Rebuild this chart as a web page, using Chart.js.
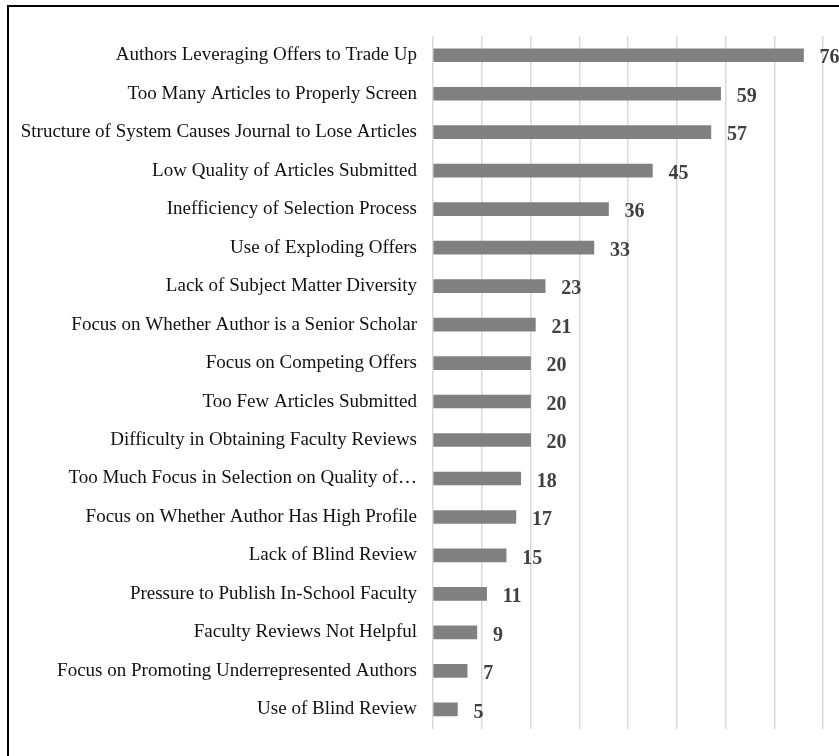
<!DOCTYPE html>
<html>
<head>
<meta charset="utf-8">
<script src="https://cdn.jsdelivr.net/npm/chart.js@4"></script>
<style>
  html, body { margin: 0; padding: 0; background: #fff; overflow: hidden; }
  #frame {
    position: absolute; left: 7px; top: 5px; width: 900px; height: 800px;
    border-left: 2px solid #000; border-top: 2px solid #000;
  }
  #wrap { position: absolute; left: 0; top: 0; width: 839px; height: 756px; }
</style>
</head>
<body>
<div id="frame"></div>
<div id="wrap"><canvas id="barChart" width="839" height="756"></canvas></div>
<script>
const categories = [
  'Authors Leveraging Offers to Trade Up',
  'Too Many Articles to Properly Screen',
  'Structure of System Causes Journal to Lose Articles',
  'Low Quality of Articles Submitted',
  'Inefficiency of Selection Process',
  'Use of Exploding Offers',
  'Lack of Subject Matter Diversity',
  'Focus on Whether Author is a Senior Scholar',
  'Focus on Competing Offers',
  'Too Few Articles Submitted',
  'Difficulty in Obtaining Faculty Reviews',
  'Too Much Focus in Selection on Quality of\u2026',
  'Focus on Whether Author Has High Profile',
  'Lack of Blind Review',
  'Pressure to Publish In-School Faculty',
  'Faculty Reviews Not Helpful',
  'Focus on Promoting Underrepresented Authors',
  'Use of Blind Review'
];
const counts = [76, 59, 57, 45, 36, 33, 23, 21, 20, 20, 20, 18, 17, 15, 11, 9, 7, 5];
const axisMin = 0;
const axisMax = 80;
const axisStep = 10;

const serif = '"Liberation Serif", "Times New Roman", serif';

// draws the bold value next to each bar
const valueLabels = {
  id: 'valueLabels',
  afterDatasetsDraw(chart) {
    const ctx = chart.ctx;
    const meta = chart.getDatasetMeta(0);
    ctx.save();
    ctx.font = 'bold 20px ' + serif;
    ctx.fillStyle = '#404040';
    ctx.textBaseline = 'middle';
    ctx.textAlign = 'left';
    meta.data.forEach((bar, i) => {
      ctx.fillText(String(counts[i]), bar.x + 16, bar.y + 3);
    });
    ctx.restore();
  }
};

const ctx = document.getElementById('barChart').getContext('2d');
const barChart = new Chart(ctx, {
  type: 'bar',
  data: {
    labels: categories,
    datasets: [{
      data: counts,
      backgroundColor: '#808080',
      barThickness: 13
    }]
  },
  options: {
    indexAxis: 'y',
    responsive: false,
    animation: false,
    layout: { padding: { top: 36, bottom: 24, right: 16, left: 0 } },
    plugins: {
      legend: { display: false },
      tooltip: { enabled: false }
    },
    scales: {
      x: {
        min: axisMin,
        max: axisMax,
        ticks: { display: false, stepSize: axisStep },
        grid: { color: '#d9d9d9', lineWidth: 1.5, drawTicks: false },
        border: { display: false }
      },
      y: {
        grid: { display: false, drawTicks: false },
        border: { display: false },
        ticks: {
          padding: 16,
          color: '#111',
          font: { family: serif, size: 19 }
        },
        afterFit(scale) { scale.width = 433; }
      }
    }
  },
  plugins: [valueLabels]
});
</script>
</body>
</html>
